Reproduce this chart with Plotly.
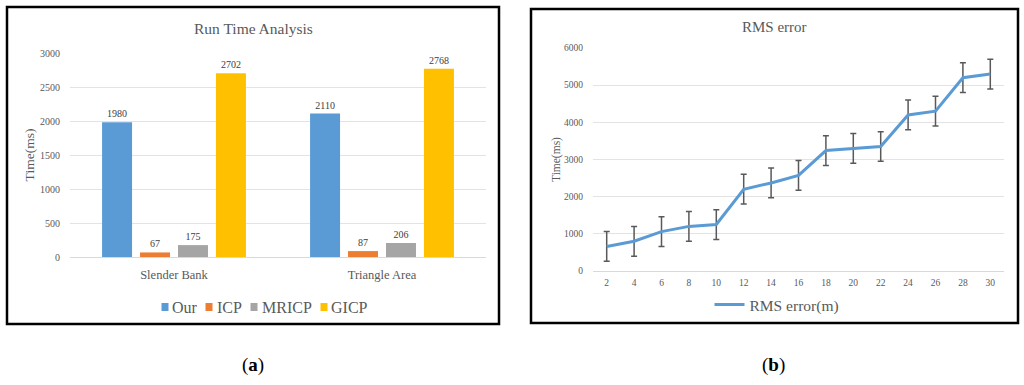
import plotly.graph_objects as go

# ---- data: panel (a)
regions = ["Slender Bank", "Triangle Area"]
methods = ["Our", "ICP", "MRICP", "GICP"]
run_times = {
    "Our": [1980, 2110],
    "ICP": [67, 87],
    "MRICP": [175, 206],
    "GICP": [2702, 2768],
}
method_colors = {"Our": "#5b9bd5", "ICP": "#ed7d31", "MRICP": "#a5a5a5", "GICP": "#ffc000"}

# ---- data: panel (b)
rms_x = ["2", "4", "6", "8", "10", "12", "14", "16", "18", "20", "22", "24", "26", "28", "30"]
rms_time = [660, 800, 1060, 1200, 1250, 2200, 2370, 2570, 3240, 3300, 3350, 4200, 4300, 5200, 5300]
rms_err = [400, 400, 400, 400, 400, 400, 400, 400, 400, 400, 400, 400, 400, 400, 400]

W, H = 1024, 385
FONT = "Liberation Serif, Times New Roman, serif"
GRAY = "#595959"


def px(x):
    return x / W


def py(y):
    return 1 - y / H


fig = go.Figure()

for m in methods:
    fig.add_trace(go.Bar(
        x=regions, y=run_times[m], name=m,
        marker=dict(color=method_colors[m], line=dict(width=0)),
        text=run_times[m], textposition="outside",
        textfont=dict(family=FONT, size=10, color="#404040"),
        cliponaxis=False, showlegend=False,
        xaxis="x", yaxis="y",
    ))

fig.add_trace(go.Scatter(
    x=rms_x, y=rms_time, name="RMS error(m)", mode="lines",
    line=dict(color="#5b9bd5", width=3),
    error_y=dict(type="data", array=rms_err, color=GRAY, thickness=1.5, width=3),
    xaxis="x2", yaxis="y2", legend="legend2", showlegend=True,
))

grid = "#e3e3e3"

# manual legend for panel (a): small square swatches + labels
legend_a_square_x = [165, 209, 254, 324]
legend_a_text_x = [172, 217, 262, 331]
shapes = [
    dict(type="rect", xref="paper", yref="paper",
         x0=px(7), x1=px(499), y0=py(324), y1=py(7),
         line=dict(color="black", width=2.5), layer="above"),
    dict(type="rect", xref="paper", yref="paper",
         x0=px(531), x1=px(1018), y0=py(323), y1=py(9),
         line=dict(color="black", width=2.5), layer="above"),
]
annotations = [
    dict(text="Run Time Analysis", xref="paper", yref="paper", x=px(253), y=py(28),
         showarrow=False, font=dict(family=FONT, size=15.5, color=GRAY),
         xanchor="center", yanchor="middle"),
    dict(text="RMS error", xref="paper", yref="paper", x=px(774), y=py(27),
         showarrow=False, font=dict(family=FONT, size=15, color=GRAY),
         xanchor="center", yanchor="middle"),
    dict(text="(<b>a</b>)", xref="paper", yref="paper", x=px(253), y=py(365),
         showarrow=False, font=dict(family=FONT, size=19, color="black"),
         xanchor="center", yanchor="middle"),
    dict(text="(<b>b</b>)", xref="paper", yref="paper", x=px(773), y=py(365),
         showarrow=False, font=dict(family=FONT, size=19, color="black"),
         xanchor="center", yanchor="middle"),
]
for m, sx, tx in zip(methods, legend_a_square_x, legend_a_text_x):
    shapes.append(dict(type="rect", xref="paper", yref="paper",
                       x0=px(sx - 3.5), x1=px(sx + 3.5), y0=py(311), y1=py(303),
                       fillcolor=method_colors[m], line=dict(width=0)))
    annotations.append(dict(text=m, xref="paper", yref="paper", x=px(tx), y=py(307),
                            showarrow=False, font=dict(family=FONT, size=16, color=GRAY),
                            xanchor="left", yanchor="middle", xshift=-2))

fig.update_layout(
    width=W, height=H,
    margin=dict(l=0, r=0, t=0, b=0, autoexpand=False),
    paper_bgcolor="white", plot_bgcolor="white",
    font=dict(family=FONT, color=GRAY),
    barmode="group", bargap=0.27, bargroupgap=0.21,
    xaxis=dict(domain=[px(70), px(486)], anchor="y", range=[-0.5, 1.5],
               showgrid=False, showline=False, ticks="", automargin=False,
               ticklabelstandoff=8,
               tickfont=dict(family=FONT, size=12.5, color=GRAY)),
    yaxis=dict(domain=[py(257), py(53)], anchor="x", range=[0, 3000],
               dtick=500, showgrid=True, gridcolor=grid, gridwidth=1,
               zeroline=True, zerolinecolor="#d9d9d9", zerolinewidth=1,
               showline=False, ticks="", automargin=False,
               ticklabelstandoff=9,
               tickfont=dict(family=FONT, size=10, color=GRAY),
               title=dict(text="Time(ms)", font=dict(family=FONT, size=13.5, color=GRAY), standoff=2)),
    xaxis2=dict(domain=[px(593), px(1004)], anchor="y2", range=[-0.5, 14.5],
                type="category", automargin=False,
                showgrid=False, showline=False, ticks="",
                ticklabelstandoff=4,
                tickfont=dict(family=FONT, size=9.5, color=GRAY)),
    yaxis2=dict(domain=[py(271), py(48)], anchor="x2", range=[0, 6000],
                dtick=1000, showgrid=True, gridcolor=grid, gridwidth=1,
                zeroline=True, zerolinecolor="#d9d9d9", zerolinewidth=1,
                showline=False, ticks="", automargin=False,
                ticklabelstandoff=9,
                tickfont=dict(family=FONT, size=9.5, color=GRAY),
                title=dict(text="Time(ms)", font=dict(family=FONT, size=11.5, color=GRAY), standoff=0)),
    legend2=dict(orientation="h", x=px(777), xanchor="center", y=py(305), yanchor="middle",
                 font=dict(family=FONT, size=15.5, color=GRAY), itemwidth=30,
                 bgcolor="rgba(0,0,0,0)"),
    showlegend=True,
    shapes=shapes,
    annotations=annotations,
)

fig.write_html("out.html", config={"displayModeBar": False},
               post_script="document.body.style.margin='0';document.body.style.overflow='hidden';")
